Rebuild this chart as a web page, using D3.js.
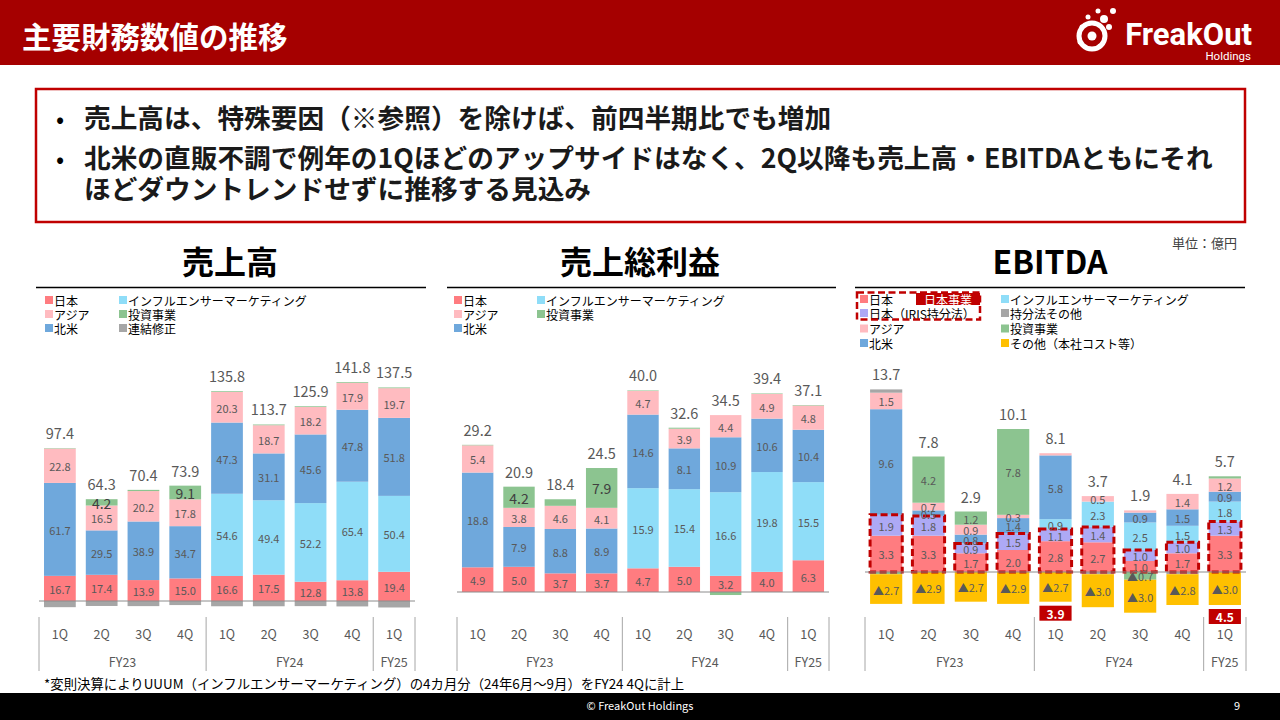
<!DOCTYPE html>
<html>
<head>
<meta charset="utf-8">
<script src="https://cdn.jsdelivr.net/npm/d3@7"></script>
<style>
  body { margin: 0; background: #fff; }
  svg { display: block; font-family: "Noto Sans CJK JP", "Noto Sans", sans-serif; }
</style>
</head>
<body>
<svg id="slide" width="1280" height="720"></svg>
<script>
// ---- data (億円) ----
const quarters = ["1Q", "2Q", "3Q", "4Q", "1Q", "2Q", "3Q", "4Q", "1Q"];
const fiscalYears = ["FY23", "FY23", "FY23", "FY23", "FY24", "FY24", "FY24", "FY24", "FY25"];

// 売上高
const salesJapan      = [16.7, 17.4, 13.9, 15.0, 16.6, 17.5, 12.8, 13.8, 19.4];
const salesInfluencer = [0, 0, 0, 0, 54.6, 49.4, 52.2, 65.4, 50.4];
const salesNorthAm    = [61.7, 29.5, 38.9, 34.7, 47.3, 31.1, 45.6, 47.8, 51.8];
const salesAsia       = [22.8, 16.5, 20.2, 17.8, 20.3, 18.7, 18.2, 17.9, 19.7];
const salesInvest     = [0.3, 4.2, 0.8, 9.1, 0.5, 0.5, 0.5, 0.5, 0.5];
const salesAdjust     = [-4.1, -3.3, -3.4, -2.7, -3.5, -3.5, -3.4, -3.6, -4.3];
const salesTotal      = [97.4, 64.3, 70.4, 73.9, 135.8, 113.7, 125.9, 141.8, 137.5];

// 売上総利益
const gpJapan      = [4.9, 5.0, 3.7, 3.7, 4.7, 5.0, 3.2, 4.0, 6.3];
const gpInfluencer = [0, 0, 0, 0, 15.9, 15.4, 16.6, 19.8, 15.5];
const gpNorthAm    = [18.8, 7.9, 8.8, 8.9, 14.6, 8.1, 10.9, 10.6, 10.4];
const gpAsia       = [5.4, 3.8, 4.6, 4.1, 4.7, 3.9, 4.4, 4.9, 4.8];
const gpInvest     = [0.1, 4.2, 1.3, 7.9, 0.1, 0.2, -0.6, 0.1, 0.1];
const gpTotal      = [29.2, 20.9, 18.4, 24.5, 40.0, 32.6, 34.5, 39.4, 37.1];

// EBITDA
const ebJapan      = [3.3, 3.3, 1.7, 2.0, 2.8, 2.7, 1.0, 1.7, 3.3];
const ebIris       = [1.9, 1.8, 0.9, 1.5, 1.1, 1.4, 1.0, 1.0, 1.3];
const ebInfluencer = [0, 0, 0, 0, 0.9, 2.3, 2.5, 1.5, 1.8];
const ebNorthAm    = [9.6, 0.5, 0.8, 1.4, 5.8, 0, 0.9, 1.5, 0.9];
const ebAsia       = [1.5, 0.7, 0.9, 0.3, 0.2, 0.5, 0.2, 1.4, 1.2];
const ebEquity     = [0.3, 0, 0, 0, 0, -0.2, 0, -0.2, 0];
const ebInvest     = [-0.2, 4.2, 1.2, 7.8, 0, 0, -0.7, 0, 0.2];
const ebOther      = [-2.7, -2.9, -2.7, -2.9, -2.7, -3.0, -3.0, -2.8, -3.0];
const ebTotal      = [13.7, 7.8, 2.9, 10.1, 8.1, 3.7, 1.9, 4.1, 5.7];
const japanBizNote = [null, null, null, null, "3.9", null, null, null, "4.5"];

const C = {
  japan: "#FF7C80", iris: "#ADA9F5", infl: "#8FDDF8", na: "#6FA8DC",
  asia: "#FFBBC0", invest: "#8CC490", gray: "#A6A6A6", other: "#FFC000",
  red: "#C00000", text: "#595959"
};

const svg = d3.select("#slide");

// ---- header ----
svg.append("rect").attr("width", 1280).attr("height", 65).attr("fill", "#A50000");
svg.append("text").attr("x", 22).attr("y", 48)
  .attr("font-size", 29.5).attr("font-weight", "bold").attr("fill", "#fff")
  .text("主要財務数値の推移");

// logo
const logo = svg.append("g").attr("fill", "#fff");
logo.append("circle").attr("cx", 1092).attr("cy", 36).attr("r", 13)
  .attr("fill", "none").attr("stroke", "#fff").attr("stroke-width", 5);
[[1092, 36, 4.5], [1104, 19, 4], [1113, 11, 3], [1098, 11, 2.5], [1109, 27, 3], [1082, 27, 2.5],
 [1100, 46, 2.5], [1080, 42, 2.5], [1088, 17, 2.5]]
  .forEach(d => logo.append("circle").attr("cx", d[0]).attr("cy", d[1]).attr("r", d[2]));
logo.append("text").attr("x", 1252).attr("y", 45).attr("text-anchor", "end")
  .attr("font-family", "Roboto, sans-serif").attr("font-size", 31).attr("font-weight", "bold")
  .text("FreakOut");
logo.append("text").attr("x", 1251).attr("y", 60).attr("text-anchor", "end")
  .attr("font-family", "Roboto, sans-serif").attr("font-size", 11.5)
  .text("Holdings");

// ---- message box ----
svg.append("rect").attr("x", 36).attr("y", 89).attr("width", 1209).attr("height", 133)
  .attr("fill", "none").attr("stroke", C.red).attr("stroke-width", 2.5);
const bullets = [
  { y: 128, bullet: true, t: "売上高は、特殊要因（※参照）を除けば、前四半期比でも増加" },
  { y: 168, bullet: true, t: "北米の直販不調で例年の1Qほどのアップサイドはなく、2Q以降も売上高・EBITDAともにそれ" },
  { y: 199, bullet: false, t: "ほどダウントレンドせずに推移する見込み" }
];
bullets.forEach(b => {
  if (b.bullet) svg.append("text").attr("x", 56).attr("y", b.y).attr("font-size", 24).text("•");
  svg.append("text").attr("x", 84).attr("y", b.y)
    .attr("font-size", 26.7).attr("font-weight", "bold").attr("fill", "#1a1a1a").text(b.t);
});

svg.append("text").attr("x", 1237).attr("y", 248).attr("text-anchor", "end")
  .attr("font-size", 13).attr("fill", "#404040").text("単位：億円");

// ---- stacked bar panel ----
function panel(cfg) {
  const g = svg.append("g");
  const rows = quarters.map((q, i) => {
    const r = { i };
    cfg.series.forEach(s => r[s.key] = s.values[i]);
    return r;
  });
  const keys = cfg.series.map(s => s.key);
  const stacked = d3.stack().keys(keys).offset(d3.stackOffsetDiverging)(rows);

  const x = d3.scaleBand().domain(d3.range(quarters.length))
    .range(cfg.xRange).paddingInner(0.24).paddingOuter(0.12);
  const y = d3.scaleLinear().domain([0, 10]).range([cfg.base, cfg.base - 10 * cfg.ppu]);

  // title + rule
  g.append("text").attr("x", cfg.titleX).attr("y", 274).attr("text-anchor", "middle")
    .attr("font-size", 32).attr("font-weight", "bold").attr("fill", "#000").text(cfg.title);
  g.append("line").attr("x1", cfg.rule[0]).attr("x2", cfg.rule[1])
    .attr("y1", 287.5).attr("y2", 287.5).attr("stroke", "#000").attr("stroke-width", 1.5);

  // legend
  cfg.legend.forEach(l => {
    const s = cfg.series.find(d => d.key === l.key);
    g.append("rect").attr("x", l.x).attr("y", l.y - 4).attr("width", 8).attr("height", 8).attr("fill", s.color);
    g.append("text").attr("x", l.x + 9).attr("y", l.y).attr("dominant-baseline", "central")
      .attr("font-size", 12).attr("fill", "#000").text(s.name);
  });

  // bars
  stacked.forEach(layer => {
    const s = cfg.series.find(d => d.key === layer.key);
    g.append("g").selectAll("rect").data(layer).join("rect")
      .attr("x", d => x(d.data.i))
      .attr("width", x.bandwidth())
      .attr("y", d => y(Math.max(d[0], d[1])))
      .attr("height", d => Math.abs(y(d[0]) - y(d[1])))
      .attr("fill", s.color);
  });

  // japan-business dashed boxes
  if (cfg.japanBox) {
    quarters.forEach((q, i) => {
      const top = y(ebJapan[i] + ebIris[i]);
      g.append("rect").attr("x", x(i)).attr("y", top)
        .attr("width", x.bandwidth()).attr("height", y(0) - top)
        .attr("fill", "none").attr("stroke", C.red).attr("stroke-width", 3)
        .attr("stroke-dasharray", "7,3.5");
    });
  }

  // segment labels
  stacked.forEach(layer => {
    const s = cfg.series.find(d => d.key === layer.key);
    layer.forEach(d => {
      const v = d.data[layer.key];
      if (!s.showLabel(v)) return;
      g.append("text")
        .attr("x", x(d.data.i) + x.bandwidth() / 2)
        .attr("y", (y(d[0]) + y(d[1])) / 2 + 0.5)
        .attr("text-anchor", "middle").attr("dominant-baseline", "central")
        .attr("font-size", s.big ? 14 : 11).attr("fill", s.big ? "#404040" : C.text)
        .text(v < 0 ? "▲" + Math.abs(v).toFixed(1) : v.toFixed(1));
    });
  });

  // totals
  cfg.totals.forEach((t, i) => {
    const pos = d3.sum(cfg.series, s => Math.max(0, s.values[i]));
    g.append("text").attr("x", x(i) + x.bandwidth() / 2).attr("y", y(pos) - 9)
      .attr("text-anchor", "middle").attr("font-size", 14.5).attr("fill", C.text)
      .text(t.toFixed(1));
  });

  // red note boxes under bars
  if (cfg.notes) {
    cfg.notes.forEach((n, i) => {
      if (!n) return;
      const neg = d3.sum(cfg.series, s => Math.min(0, s.values[i]));
      const top = y(neg) + 4;
      g.append("rect").attr("x", x(i)).attr("y", top).attr("width", x.bandwidth()).attr("height", 15)
        .attr("fill", C.red);
      g.append("text").attr("x", x(i) + x.bandwidth() / 2).attr("y", top + 7.5)
        .attr("text-anchor", "middle").attr("dominant-baseline", "central")
        .attr("font-size", 12).attr("font-weight", "bold").attr("fill", "#fff").text(n);
    });
  }

  // baseline
  g.append("line").attr("x1", cfg.xRange[0]).attr("x2", cfg.xRange[1])
    .attr("y1", y(0)).attr("y2", y(0)).attr("stroke", "#8C8C8C").attr("stroke-width", 1);

  // quarter axis
  const axis = g.append("g").attr("transform", "translate(0,630)")
    .call(d3.axisBottom(x).tickSize(0).tickPadding(0).tickFormat(i => quarters[i]));
  axis.select(".domain").remove();
  axis.selectAll("text").attr("font-size", 12.5).attr("fill", C.text)
    .attr("font-family", "\"Noto Sans CJK JP\", sans-serif");

  // fiscal year groups
  const groups = d3.groups(d3.range(quarters.length), i => fiscalYears[i]);
  const step = x.step();
  const edge = i => x(i) - (step - x.bandwidth()) / 2;
  const bounds = [cfg.xRange[0]];
  groups.forEach(([fy, idx]) => {
    const a = idx[0] === 0 ? cfg.xRange[0] : edge(idx[0]);
    const last = idx[idx.length - 1];
    const b = last === quarters.length - 1 ? cfg.xRange[1] : edge(last + 1);
    bounds.push(b);
    g.append("text").attr("x", (a + b) / 2).attr("y", 667).attr("text-anchor", "middle")
      .attr("font-size", 12.5).attr("fill", C.text).text(fy);
  });
  bounds.forEach(bx => g.append("line").attr("x1", bx).attr("x2", bx)
    .attr("y1", 617).attr("y2", 671).attr("stroke", "#A6A6A6").attr("stroke-width", 1));
}

const bigInvest = v => v >= 2;
const never = () => false;
const always = () => true;

panel({
  title: "売上高", titleX: 230, rule: [36, 426], xRange: [39, 415], base: 601, ppu: 1.506,
  series: [
    { key: "japan", name: "日本", color: C.japan, values: salesJapan, showLabel: always },
    { key: "infl", name: "インフルエンサーマーケティング", color: C.infl, values: salesInfluencer, showLabel: v => v > 0 },
    { key: "na", name: "北米", color: C.na, values: salesNorthAm, showLabel: always },
    { key: "asia", name: "アジア", color: C.asia, values: salesAsia, showLabel: always },
    { key: "invest", name: "投資事業", color: C.invest, values: salesInvest, showLabel: bigInvest, big: true },
    { key: "adj", name: "連結修正", color: C.gray, values: salesAdjust, showLabel: never }
  ],
  legend: [
    { key: "japan", x: 45, y: 300 }, { key: "asia", x: 45, y: 314 }, { key: "na", x: 45, y: 328 },
    { key: "infl", x: 119, y: 300 }, { key: "invest", x: 119, y: 314 }, { key: "adj", x: 119, y: 328 }
  ],
  totals: salesTotal
});

panel({
  title: "売上総利益", titleX: 640, rule: [447, 836], xRange: [457, 829], base: 592, ppu: 5.04,
  series: [
    { key: "japan", name: "日本", color: C.japan, values: gpJapan, showLabel: always },
    { key: "infl", name: "インフルエンサーマーケティング", color: C.infl, values: gpInfluencer, showLabel: v => v > 0 },
    { key: "na", name: "北米", color: C.na, values: gpNorthAm, showLabel: always },
    { key: "asia", name: "アジア", color: C.asia, values: gpAsia, showLabel: always },
    { key: "invest", name: "投資事業", color: C.invest, values: gpInvest, showLabel: bigInvest, big: true }
  ],
  legend: [
    { key: "japan", x: 454, y: 300 }, { key: "asia", x: 454, y: 314 }, { key: "na", x: 454, y: 328 },
    { key: "infl", x: 537, y: 300 }, { key: "invest", x: 537, y: 314 }
  ],
  totals: gpTotal
});

const ebLabel = v => Math.abs(v) >= 0.3;
panel({
  title: "EBITDA", titleX: 1050, rule: [855, 1245], xRange: [865, 1246], base: 572, ppu: 11,
  series: [
    { key: "japan", name: "日本", color: C.japan, values: ebJapan, showLabel: ebLabel },
    { key: "iris", name: "日本（IRIS持分法）", color: C.iris, values: ebIris, showLabel: ebLabel },
    { key: "infl", name: "インフルエンサーマーケティング", color: C.infl, values: ebInfluencer, showLabel: ebLabel },
    { key: "na", name: "北米", color: C.na, values: ebNorthAm, showLabel: ebLabel },
    { key: "asia", name: "アジア", color: C.asia, values: ebAsia, showLabel: ebLabel },
    { key: "equity", name: "持分法その他", color: C.gray, values: ebEquity, showLabel: never },
    { key: "invest", name: "投資事業", color: C.invest, values: ebInvest, showLabel: ebLabel },
    { key: "other", name: "その他（本社コスト等）", color: C.other, values: ebOther, showLabel: ebLabel }
  ],
  legend: [
    { key: "japan", x: 860, y: 299 }, { key: "iris", x: 860, y: 313 }, { key: "asia", x: 860, y: 328.5 }, { key: "na", x: 860, y: 343 },
    { key: "infl", x: 1001, y: 299 }, { key: "equity", x: 1001, y: 313 }, { key: "invest", x: 1001, y: 328.5 }, { key: "other", x: 1001, y: 343 }
  ],
  totals: ebTotal,
  japanBox: true,
  notes: japanBizNote
});

// legend box for 日本事業
svg.append("rect").attr("x", 857).attr("y", 292.5).attr("width", 123).attr("height", 27)
  .attr("fill", "none").attr("stroke", C.red).attr("stroke-width", 2.5).attr("stroke-dasharray", "7,3.5");
svg.append("rect").attr("x", 916).attr("y", 293).attr("width", 64).attr("height", 12).attr("fill", C.red);
svg.append("text").attr("x", 948).attr("y", 299.5).attr("text-anchor", "middle").attr("dominant-baseline", "central")
  .attr("font-size", 12).attr("fill", "#fff").text("日本事業");

// ---- footnote & footer ----
svg.append("text").attr("x", 44).attr("y", 689).attr("font-size", 13.4).attr("fill", "#000")
  .text("*変則決算によりUUUM（インフルエンサーマーケティング）の4カ月分（24年6月～9月）をFY24 4Qに計上");
svg.append("rect").attr("x", 0).attr("y", 693).attr("width", 1280).attr("height", 27).attr("fill", "#000");
svg.append("text").attr("x", 640).attr("y", 710).attr("text-anchor", "middle")
  .attr("font-size", 11).attr("fill", "#fff").text("© FreakOut Holdings");
svg.append("text").attr("x", 1240).attr("y", 710).attr("text-anchor", "end")
  .attr("font-size", 11).attr("fill", "#fff").text("9");
</script>
</body>
</html>
